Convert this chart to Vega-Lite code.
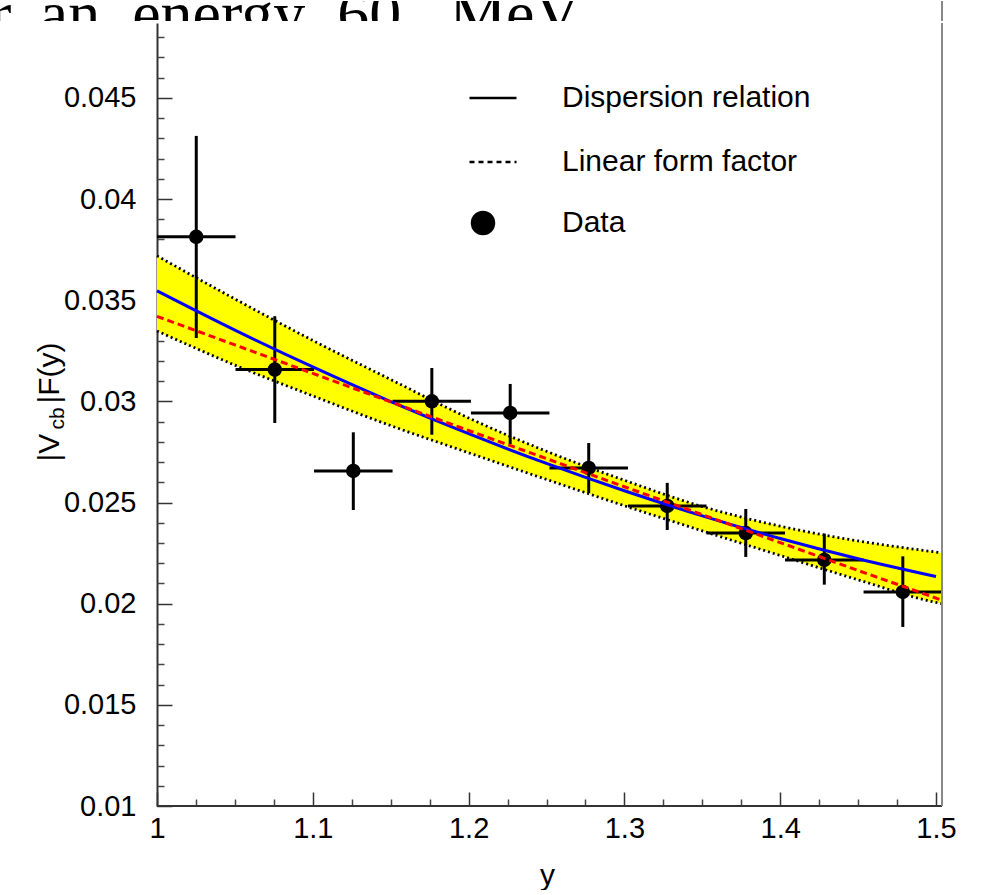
{
  "$schema": "https://vega.github.io/schema/vega-lite/v6.json",
  "background": "white",
  "padding": 0,
  "spacing": 0,
  "config": {"view": {"stroke": null}, "font": "Liberation Sans"},
  "datasets": {
    "curves": [
      {"x": 1.00, "upper": 0.03719, "lower": 0.03348, "disp": 0.03546, "lin": 0.03420},
      {"x": 1.05, "upper": 0.03506, "lower": 0.03179, "disp": 0.03352, "lin": 0.03279},
      {"x": 1.10, "upper": 0.03301, "lower": 0.03027, "disp": 0.03170, "lin": 0.03138},
      {"x": 1.15, "upper": 0.03108, "lower": 0.02880, "disp": 0.02999, "lin": 0.02997},
      {"x": 1.20, "upper": 0.02918, "lower": 0.02746, "disp": 0.02840, "lin": 0.02856},
      {"x": 1.25, "upper": 0.02753, "lower": 0.02614, "disp": 0.02693, "lin": 0.02717},
      {"x": 1.30, "upper": 0.02610, "lower": 0.02484, "disp": 0.02558, "lin": 0.02578},
      {"x": 1.35, "upper": 0.02480, "lower": 0.02360, "disp": 0.02434, "lin": 0.02440},
      {"x": 1.40, "upper": 0.02383, "lower": 0.02238, "disp": 0.02322, "lin": 0.02302},
      {"x": 1.45, "upper": 0.02310, "lower": 0.02118, "disp": 0.02222, "lin": 0.02164},
      {"x": 1.50, "upper": 0.02255, "lower": 0.02006, "disp": 0.02134, "lin": 0.02027},
      {"x": 1.50385, "upper": 0.02251, "lower": 0.02000, "lin": 0.02016}
    ],
    "points": [
      {"series": "Data", "x": 1.0252, "xlo": 1.0000, "xhi": 1.0504, "y": 0.03813, "ylo": 0.03313, "yhi": 0.04312},
      {"series": "Data", "x": 1.0756, "xlo": 1.0504, "xhi": 1.1008, "y": 0.03157, "ylo": 0.02893, "yhi": 0.03421},
      {"series": "Data", "x": 1.1260, "xlo": 1.1008, "xhi": 1.1512, "y": 0.02656, "ylo": 0.02463, "yhi": 0.02847},
      {"series": "Data", "x": 1.1764, "xlo": 1.1512, "xhi": 1.2015, "y": 0.03000, "ylo": 0.02835, "yhi": 0.03165},
      {"series": "Data", "x": 1.2267, "xlo": 1.2015, "xhi": 1.2519, "y": 0.02943, "ylo": 0.02789, "yhi": 0.03086},
      {"series": "Data", "x": 1.2771, "xlo": 1.2519, "xhi": 1.3023, "y": 0.02671, "ylo": 0.02547, "yhi": 0.02794},
      {"series": "Data", "x": 1.3275, "xlo": 1.3023, "xhi": 1.3527, "y": 0.02483, "ylo": 0.02364, "yhi": 0.02597},
      {"series": "Data", "x": 1.3779, "xlo": 1.3527, "xhi": 1.4031, "y": 0.02349, "ylo": 0.02231, "yhi": 0.02468},
      {"series": "Data", "x": 1.4283, "xlo": 1.4031, "xhi": 1.4535, "y": 0.02216, "ylo": 0.02094, "yhi": 0.02346},
      {"series": "Data", "x": 1.4787, "xlo": 1.4535, "xhi": 1.5038, "y": 0.02058, "ylo": 0.01885, "yhi": 0.02234}
    ]
  },
  "vconcat": [
    {
      "width": 942,
      "height": 20,
      "layer": [
        {
          "data": {"values": [{"caption": "r. an\u00a0 energy\u00a0 60\u00a0\u00a0 MeV"}]},
          "mark": {"type": "text", "clip": true, "font": "Liberation Serif", "fontSize": 64, "align": "left", "baseline": "alphabetic", "color": "black"},
          "encoding": {
            "text": {"field": "caption"},
            "x": {"datum": 0.8928, "type": "quantitative", "scale": {"domain": [0.89923, 1.50385], "nice": false, "zero": false}, "axis": null},
            "y": {"datum": -0.7, "type": "quantitative", "scale": {"domain": [0, 1], "nice": false, "zero": false}, "axis": null}
          }
        },
        {
          "data": {"values": [{}]},
          "mark": {"type": "rule", "color": "#888888", "strokeWidth": 2},
          "encoding": {
            "x": {"datum": 1.50385, "type": "quantitative"},
            "y": {"datum": 0, "type": "quantitative"},
            "y2": {"datum": 1}
          }
        }
      ]
    },
    {
      "width": 942,
      "height": 783,
      "resolve": {"axis": {"x": "independent", "y": "independent"}},
      "layer": [
        {
          "data": {"name": "curves"},
          "mark": {"type": "area", "color": "#ffff00", "opacity": 1, "interpolate": "monotone"},
          "encoding": {
            "x": {"field": "x", "type": "quantitative", "scale": {"domain": [0.89923, 1.50385], "nice": false, "zero": false},
              "axis": {"orient": "bottom", "values": [1, 1.1, 1.2, 1.3, 1.4, 1.5], "format": "~g", "domain": false, "grid": false,
                "tickSize": -14, "tickColor": "#333333", "tickWidth": 1.5, "labelPadding": 22, "labelFont": "Liberation Sans", "labelFontSize": 29,
                "labelColor": "black", "labelFlush": false, "labelOverlap": false, "labelBaseline": "top", "labelAlign": "center",
                "title": "y", "titleFont": "Liberation Sans", "titleFontSize": 30, "titleFontWeight": "normal", "titleColor": "black",
                "titleX": 547, "titleY": 78, "titleAlign": "center", "titleBaseline": "alphabetic", "titleAngle": 0}},
            "y": {"field": "upper", "type": "quantitative", "scale": {"domain": [0.01, 0.0487], "nice": false, "zero": false},
              "axis": {"orient": "left", "offset": -157, "values": [0.01, 0.015, 0.02, 0.025, 0.03, 0.035, 0.04, 0.045], "format": "~g",
                "domain": true, "domainColor": "#333333", "domainWidth": 2, "grid": false, "tickSize": -15, "tickColor": "#333333", "tickWidth": 1.5,
                "labelPadding": 36, "labelFont": "Liberation Sans", "labelFontSize": 29, "labelColor": "black", "labelFlush": false, "labelOverlap": false,
                "labelAlign": "right", "labelBaseline": "middle",
                "title": "|V", "titleFont": "Liberation Sans", "titleFontSize": 30, "titleFontWeight": "normal", "titleColor": "black",
                "titleAngle": 270, "titleAlign": "left", "titleBaseline": "alphabetic", "titleX": -99, "titleY": 438}},
            "y2": {"field": "lower"}
          }
        },
        {
          "data": {"name": "curves"},
          "mark": {"type": "line", "color": "black", "strokeWidth": 2.8, "strokeDash": [2, 3], "interpolate": "monotone"},
          "encoding": {
            "x": {"field": "x", "type": "quantitative", "scale": {"domain": [0.89923, 1.50385], "nice": false, "zero": false},
              "axis": {"orient": "bottom", "values": [1.025, 1.05, 1.075, 1.125, 1.15, 1.175, 1.225, 1.25, 1.275, 1.325, 1.35, 1.375, 1.425, 1.45, 1.475],
                "domain": false, "grid": false, "labels": false, "tickSize": -7, "tickColor": "#444444", "tickWidth": 1.5, "title": null}},
            "y": {"field": "upper", "type": "quantitative", "scale": {"domain": [0.01, 0.0487], "nice": false, "zero": false},
              "axis": {"orient": "left", "offset": -157,
                "values": [0.011, 0.012, 0.013, 0.014, 0.016, 0.017, 0.018, 0.019, 0.021, 0.022, 0.023, 0.024, 0.026, 0.027, 0.028, 0.029, 0.031, 0.032, 0.033, 0.034, 0.036, 0.037, 0.038, 0.039, 0.041, 0.042, 0.043, 0.044, 0.046, 0.047, 0.048],
                "domain": false, "grid": false, "labels": false, "tickSize": -7, "tickColor": "#444444", "tickWidth": 1.5,
                "title": "cb", "titleFont": "Liberation Sans", "titleFontSize": 21, "titleFontWeight": "normal", "titleColor": "black",
                "titleAngle": 270, "titleAlign": "left", "titleBaseline": "alphabetic", "titleX": -94, "titleY": 406}}
          }
        },
        {
          "data": {"name": "curves"},
          "mark": {"type": "line", "color": "black", "strokeWidth": 2.8, "strokeDash": [2, 3], "interpolate": "monotone"},
          "encoding": {
            "x": {"field": "x", "type": "quantitative", "scale": {"domain": [0.89923, 1.50385], "nice": false, "zero": false}, "axis": null},
            "y": {"field": "lower", "type": "quantitative", "scale": {"domain": [0.01, 0.0487], "nice": false, "zero": false},
              "axis": {"orient": "left", "offset": -157, "domain": false, "ticks": false, "labels": false, "grid": false,
                "title": "|F(y)", "titleFont": "Liberation Sans", "titleFontSize": 30, "titleFontWeight": "normal", "titleColor": "black",
                "titleAngle": 270, "titleAlign": "left", "titleBaseline": "alphabetic", "titleX": -99, "titleY": 380}}
          }
        },
        {
          "data": {"name": "points"},
          "mark": {"type": "rule", "color": "black", "strokeWidth": 3},
          "encoding": {
            "x": {"field": "x", "type": "quantitative", "scale": {"domain": [0.89923, 1.50385], "nice": false, "zero": false}, "axis": null},
            "y": {"field": "ylo", "type": "quantitative", "scale": {"domain": [0.01, 0.0487], "nice": false, "zero": false}, "axis": null},
            "y2": {"field": "yhi"}
          }
        },
        {
          "data": {"name": "points"},
          "mark": {"type": "rule", "color": "black", "strokeWidth": 3},
          "encoding": {
            "x": {"field": "xlo", "type": "quantitative", "scale": {"domain": [0.89923, 1.50385], "nice": false, "zero": false}, "axis": null},
            "x2": {"field": "xhi"},
            "y": {"field": "y", "type": "quantitative", "scale": {"domain": [0.01, 0.0487], "nice": false, "zero": false}, "axis": null}
          }
        },
        {
          "data": {"name": "points"},
          "mark": {"type": "point", "filled": true, "size": 210, "color": "black", "opacity": 1},
          "encoding": {
            "x": {"field": "x", "type": "quantitative", "scale": {"domain": [0.89923, 1.50385], "nice": false, "zero": false}, "axis": null},
            "y": {"field": "y", "type": "quantitative", "scale": {"domain": [0.01, 0.0487], "nice": false, "zero": false}, "axis": null},
            "shape": {"field": "series", "type": "nominal",
              "scale": {"domain": ["Data"], "range": ["circle"]},
              "legend": {"orient": "none", "legendX": 468, "legendY": 207, "title": null, "padding": 0,
                "symbolSize": 600, "symbolFillColor": "black", "symbolOpacity": 1,
                "labelFont": "Liberation Sans", "labelFontSize": 30, "labelColor": "black", "labelOffset": 64, "labelLimit": 400}}
          }
        },
        {
          "data": {"values": []},
          "mark": {"type": "line", "color": "black", "strokeWidth": 2.5},
          "encoding": {
            "x": {"field": "x", "type": "quantitative", "scale": {"domain": [0.89923, 1.50385], "nice": false, "zero": false}, "axis": null},
            "y": {"field": "y", "type": "quantitative", "scale": {"domain": [0.01, 0.0487], "nice": false, "zero": false}, "axis": null},
            "strokeDash": {"field": "series", "type": "nominal",
              "scale": {"domain": ["Dispersion relation", "Linear form factor"], "range": [[1, 0], [5, 4]]},
              "legend": {"orient": "none", "legendX": 468, "legendY": 72, "title": null, "padding": 0,
                "symbolSize": 2209, "symbolStrokeWidth": 2.5, "symbolStrokeColor": "black", "symbolOpacity": 1,
                "labelFont": "Liberation Sans", "labelFontSize": 30, "labelColor": "black", "labelOffset": 44, "rowPadding": 24, "labelLimit": 400}}
          }
        },
        {
          "data": {"name": "curves"},
          "mark": {"type": "line", "color": "#0000ff", "strokeWidth": 3, "interpolate": "monotone"},
          "encoding": {
            "x": {"field": "x", "type": "quantitative", "scale": {"domain": [0.89923, 1.50385], "nice": false, "zero": false}, "axis": null},
            "y": {"field": "disp", "type": "quantitative", "scale": {"domain": [0.01, 0.0487], "nice": false, "zero": false}, "axis": null}
          }
        },
        {
          "data": {"name": "curves"},
          "mark": {"type": "line", "color": "#ff0000", "strokeWidth": 3, "strokeDash": [7, 4], "interpolate": "monotone"},
          "encoding": {
            "x": {"field": "x", "type": "quantitative", "scale": {"domain": [0.89923, 1.50385], "nice": false, "zero": false}, "axis": null},
            "y": {"field": "lin", "type": "quantitative", "scale": {"domain": [0.01, 0.0487], "nice": false, "zero": false}, "axis": null}
          }
        },
        {
          "data": {"values": [{}]},
          "mark": {"type": "rule", "color": "#333333", "strokeWidth": 2},
          "encoding": {
            "x": {"datum": 1, "type": "quantitative", "axis": null},
            "x2": {"datum": 1.50385},
            "y": {"datum": 0.01, "type": "quantitative", "axis": null}
          }
        },
        {
          "data": {"values": [{}]},
          "mark": {"type": "rule", "color": "#888888", "strokeWidth": 2},
          "encoding": {
            "x": {"datum": 1.50385, "type": "quantitative", "axis": null},
            "y": {"datum": 0.01, "type": "quantitative", "axis": null},
            "y2": {"datum": 0.0487}
          }
        }
      ]
    }
  ]
}
